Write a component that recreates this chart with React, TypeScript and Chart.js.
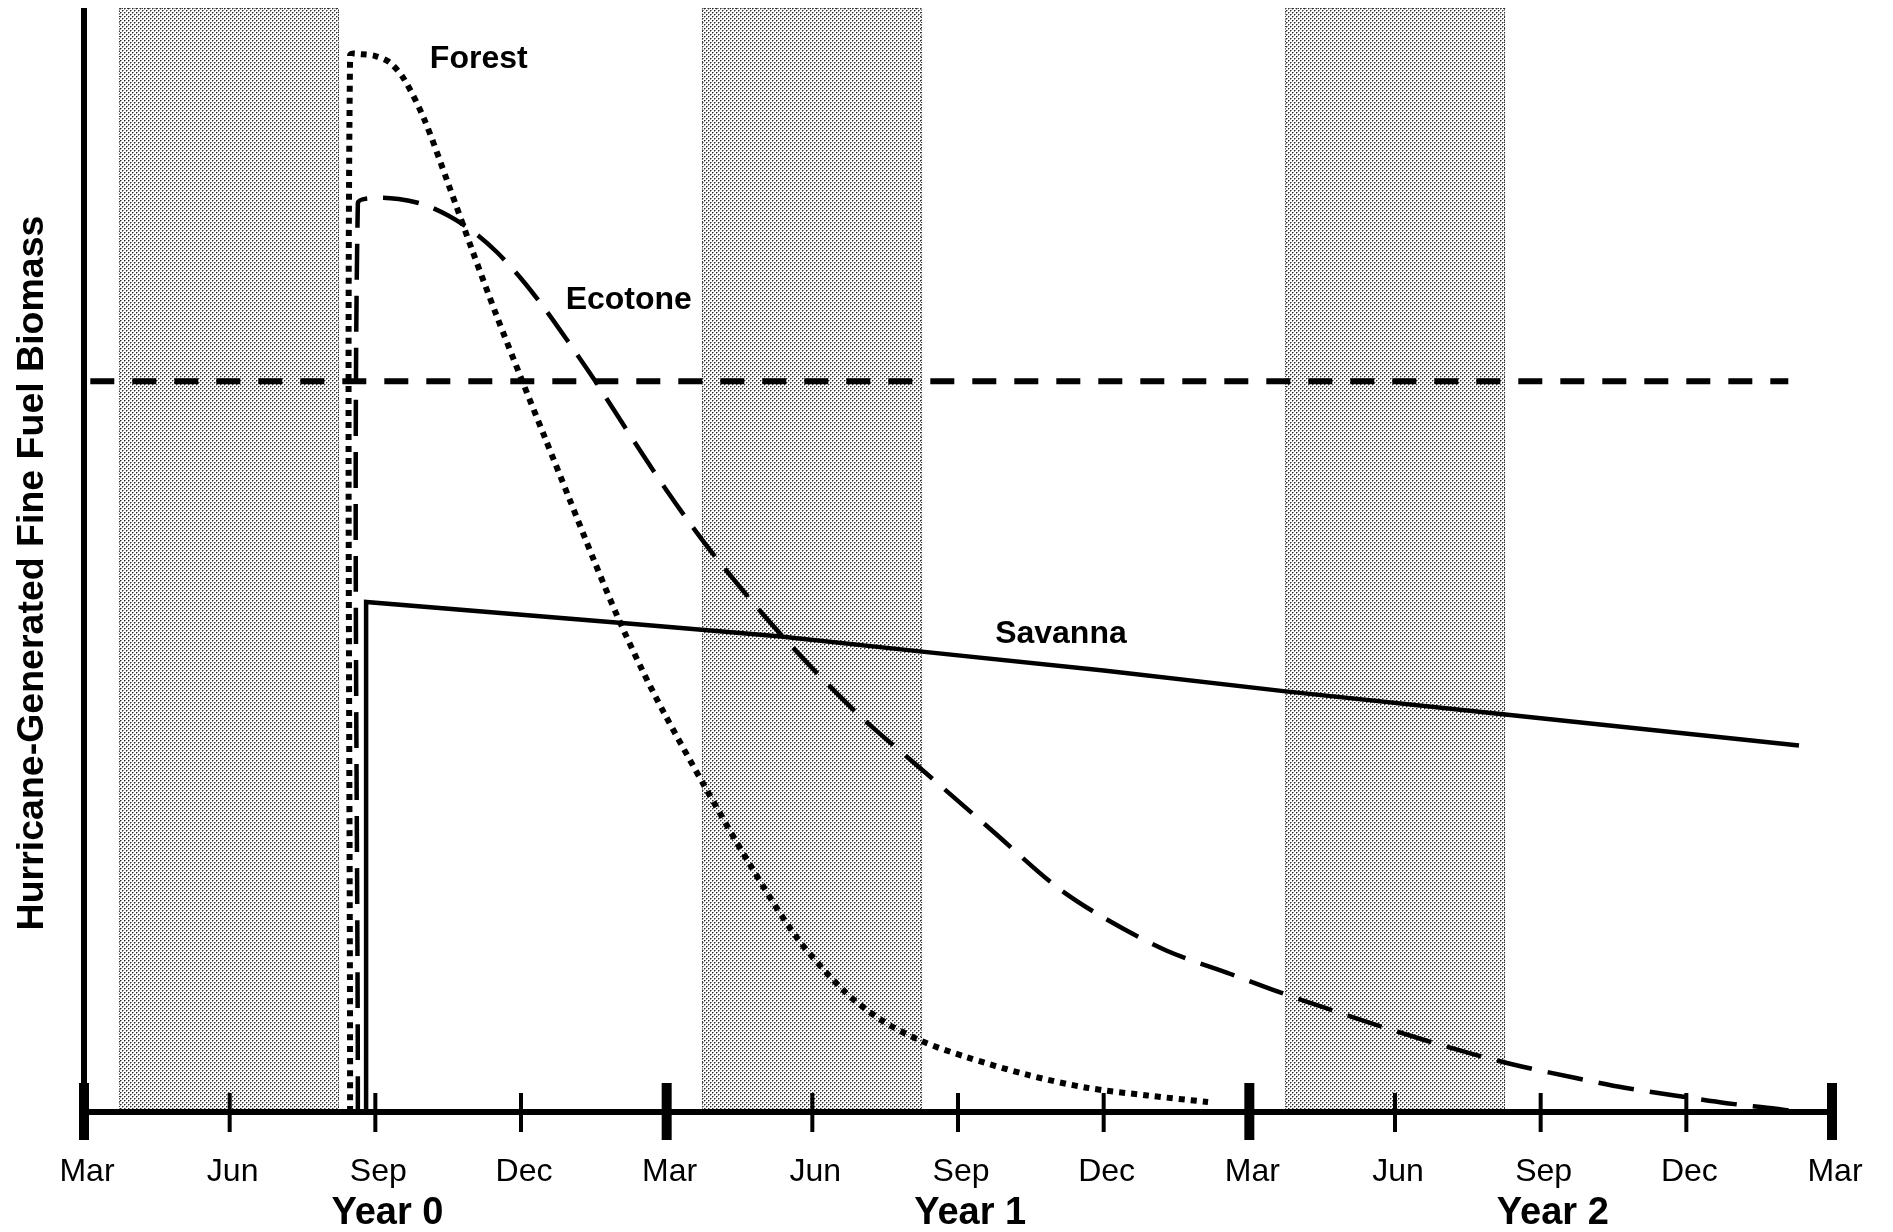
import React, { useEffect, useRef } from 'react';
import { Chart, registerables } from 'chart.js';

Chart.register(...registerables);

const W = 1893;
const H = 1232;

// ---- axis / tick data ----
const tickMonths = [0, 3, 6, 9, 12, 15, 18, 21, 24, 27, 30, 33, 36];
const tickLabels = ['Mar', 'Jun', 'Sep', 'Dec', 'Mar', 'Jun', 'Sep', 'Dec', 'Mar', 'Jun', 'Sep', 'Dec', 'Mar'];
const yearStartMonths = [0, 12, 24, 36];
const yearLabels = ['Year 0', 'Year 1', 'Year 2'];
const yearLabelMonths = [6.25, 18.25, 30.25];
const yAxisTitle = 'Hurricane-Generated Fine Fuel Biomass';

// ---- shaded seasons ----
const shadeStart = [0.72, 12.73, 24.74];
const shadeEnd = [5.25, 17.26, 29.27];

// ---- threshold line ----
const thresholdValue = 66.2;
const thresholdFrom = 0.13;
const thresholdTo = 35.1;

// ---- series ----
const forestMonths = [5.48, 5.48, 5.72, 6.0, 6.3, 6.6, 7.0, 7.5, 8.0, 8.5, 9.0, 9.5, 10.0, 10.5, 11.0, 11.5, 11.94, 12.77, 13.69, 14.68, 15.67, 16.43, 17.26, 18.16, 19.4, 20.65, 21.9, 23.15];
const forestValues = [0, 95.7, 95.8, 95.65, 95.05, 93.5, 90.0, 84.1, 78.0, 72.1, 66.5, 61.0, 55.5, 50.0, 44.75, 40.0, 36.2, 29.6, 22.6, 15.8, 10.9, 8.3, 6.4, 5.0, 3.4, 2.2, 1.5, 0.9];

const ecotoneMonths = [5.64, 5.64, 5.98, 6.48, 7.0, 7.5, 8.0, 8.5, 9.0, 9.5, 10.0, 10.5, 11.0, 11.5, 12.0, 12.5, 13.0, 14.0, 15.0, 16.0, 17.26, 18.7, 20.0, 21.0, 22.3, 23.61, 24.59, 25.58, 26.61, 27.62, 28.64, 29.63, 30.7, 31.73, 32.76, 33.83, 34.85, 35.3];
const ecotoneValues = [0, 82.3, 82.8, 82.7, 82.2, 81.2, 79.8, 77.9, 75.5, 72.7, 69.6, 66.4, 63.0, 59.6, 56.3, 53.2, 50.3, 45.0, 40.2, 35.8, 31.0, 25.5, 20.5, 17.6, 14.6, 12.5, 10.9, 9.4, 7.9, 6.5, 5.2, 4.1, 3.1, 2.2, 1.5, 0.8, 0.3, 0];

const savannaMonths = [5.81, 5.81, 11.08, 14.3, 17.26, 21.0, 24.75, 29.27, 35.32];
const savannaValues = [0, 46.2, 44.3, 43.1, 41.7, 40.0, 38.1, 36.0, 33.2];

const seriesNames = ['Forest', 'Ecotone', 'Savanna'];
const seriesLabelMonths = [8.13, 11.22, 20.12];
const seriesLabelValues = [95.4, 73.5, 43.3];

const FONT = '"Liberation Sans", Arial, Helvetica, sans-serif';

function pts(xs: number[], ys: number[]) {
  return xs.map((x, i) => ({ x, y: ys[i] }));
}

function makePattern(ctx: CanvasRenderingContext2D) {
  const c = document.createElement('canvas');
  c.width = 4;
  c.height = 4;
  const p = c.getContext('2d')!;
  p.fillStyle = '#ffffff';
  p.fillRect(0, 0, 4, 4);
  p.fillStyle = '#989898';
  p.fillRect(1, 0, 1, 1);
  p.fillRect(0, 1, 1, 1);
  p.fillRect(3, 2, 1, 1);
  p.fillRect(2, 3, 1, 1);
  p.fillStyle = '#2a2a2a';
  p.fillRect(0, 0, 1, 1);
  p.fillRect(2, 2, 1, 1);
  return ctx.createPattern(c, 'repeat');
}

const decorPlugin = {
  id: 'decor',
  beforeDatasetsDraw(chart: any) {
    const { ctx, scales } = chart;
    const xs = scales.x;
    const ys = scales.y;
    ctx.save();
    const pat = makePattern(ctx);
    const top = ys.getPixelForValue(100);
    const bottom = ys.getPixelForValue(0);
    for (let i = 0; i < shadeStart.length; i++) {
      const l = xs.getPixelForValue(shadeStart[i]);
      const r = xs.getPixelForValue(shadeEnd[i]);
      if (pat) ctx.fillStyle = pat;
      ctx.fillRect(l, top, r - l, bottom - top);
      ctx.setLineDash([1, 1.5]);
      ctx.strokeStyle = '#333';
      ctx.lineWidth = 1;
      ctx.strokeRect(Math.round(l) + 0.5, Math.round(top) + 0.5, Math.round(r - l) - 1, bottom - top);
    }
    ctx.restore();
  },
  afterDatasetsDraw(chart: any) {
    const { ctx, scales, chartArea } = chart;
    const xs = scales.x;
    const ys = scales.y;
    const x0 = xs.getPixelForValue(0);
    const x36 = xs.getPixelForValue(36);
    const yb = ys.getPixelForValue(0);
    const yt = ys.getPixelForValue(100);
    ctx.save();
    ctx.fillStyle = '#000';
    // left axis
    ctx.fillRect(x0 - 3, yt, 6, yb - yt + 3);
    // bottom axis
    ctx.fillRect(x0 - 3, yb - 3, x36 - x0 + 6, 6);
    // ticks
    for (let i = 0; i < tickMonths.length; i++) {
      const m = tickMonths[i];
      const px = xs.getPixelForValue(m);
      if (yearStartMonths.includes(m)) {
        ctx.fillRect(px - 5, yb - 29, 10, 57);
      } else {
        ctx.fillRect(px - 2, yb - 19, 4, 39);
      }
    }
    // tick labels
    ctx.textAlign = 'center';
    ctx.textBaseline = 'middle';
    ctx.font = `32px ${FONT}`;
    for (let i = 0; i < tickMonths.length; i++) {
      const px = xs.getPixelForValue(tickMonths[i]);
      ctx.fillText(tickLabels[i], px + 3, yb + 60);
    }
    // year labels
    ctx.font = `bold 38px ${FONT}`;
    for (let i = 0; i < yearLabels.length; i++) {
      const px = xs.getPixelForValue(yearLabelMonths[i]);
      ctx.fillText(yearLabels[i], px, yb + 102);
    }
    // series labels
    ctx.font = `bold 32px ${FONT}`;
    for (let i = 0; i < seriesNames.length; i++) {
      ctx.fillText(
        seriesNames[i],
        xs.getPixelForValue(seriesLabelMonths[i]),
        ys.getPixelForValue(seriesLabelValues[i])
      );
    }
    // y title
    ctx.translate(chartArea.left - 51, 573);
    ctx.rotate(-Math.PI / 2);
    ctx.font = `bold 37.5px ${FONT}`;
    ctx.fillText(yAxisTitle, 0, 0);
    ctx.restore();
  },
};

export default function App() {
  const ref = useRef<HTMLCanvasElement | null>(null);

  useEffect(() => {
    if (!ref.current) return;
    const chart = new Chart(ref.current, {
      type: 'line',
      data: {
        datasets: [
          {
            label: 'Threshold',
            data: pts([thresholdFrom, thresholdTo], [thresholdValue, thresholdValue]),
            borderColor: '#000',
            borderWidth: 6,
            borderDash: [24, 18],
            pointRadius: 0,
            tension: 0,
            fill: false,
          },
          {
            label: 'Forest',
            data: pts(forestMonths, forestValues),
            borderColor: '#000',
            borderWidth: 6,
            borderDash: [6, 6],
            pointRadius: 0,
            tension: 0.3,
            fill: false,
          },
          {
            label: 'Ecotone',
            data: pts(ecotoneMonths, ecotoneValues),
            borderColor: '#000',
            borderWidth: 4.5,
            borderDash: [36, 16],
            pointRadius: 0,
            tension: 0.3,
            fill: false,
          },
          {
            label: 'Savanna',
            data: pts(savannaMonths, savannaValues),
            borderColor: '#000',
            borderWidth: 4.5,
            pointRadius: 0,
            tension: 0,
            fill: false,
          },
        ],
      },
      options: {
        responsive: false,
        animation: false,
        devicePixelRatio: 1,
        clip: false as any,
        layout: { padding: { left: 84, right: 61, top: 8, bottom: 120 } },
        plugins: {
          legend: { display: false },
          tooltip: { enabled: false },
        },
        scales: {
          x: { type: 'linear', min: 0, max: 36, display: false },
          y: { type: 'linear', min: 0, max: 100, display: false },
        },
      },
      plugins: [decorPlugin],
    });
    return () => chart.destroy();
  }, []);

  return (
    <div style={{ position: 'absolute', left: 0, top: 0, width: W, height: H, background: '#fff' }}>
      <canvas ref={ref} width={W} height={H} style={{ width: W, height: H, display: 'block' }} />
    </div>
  );
}
